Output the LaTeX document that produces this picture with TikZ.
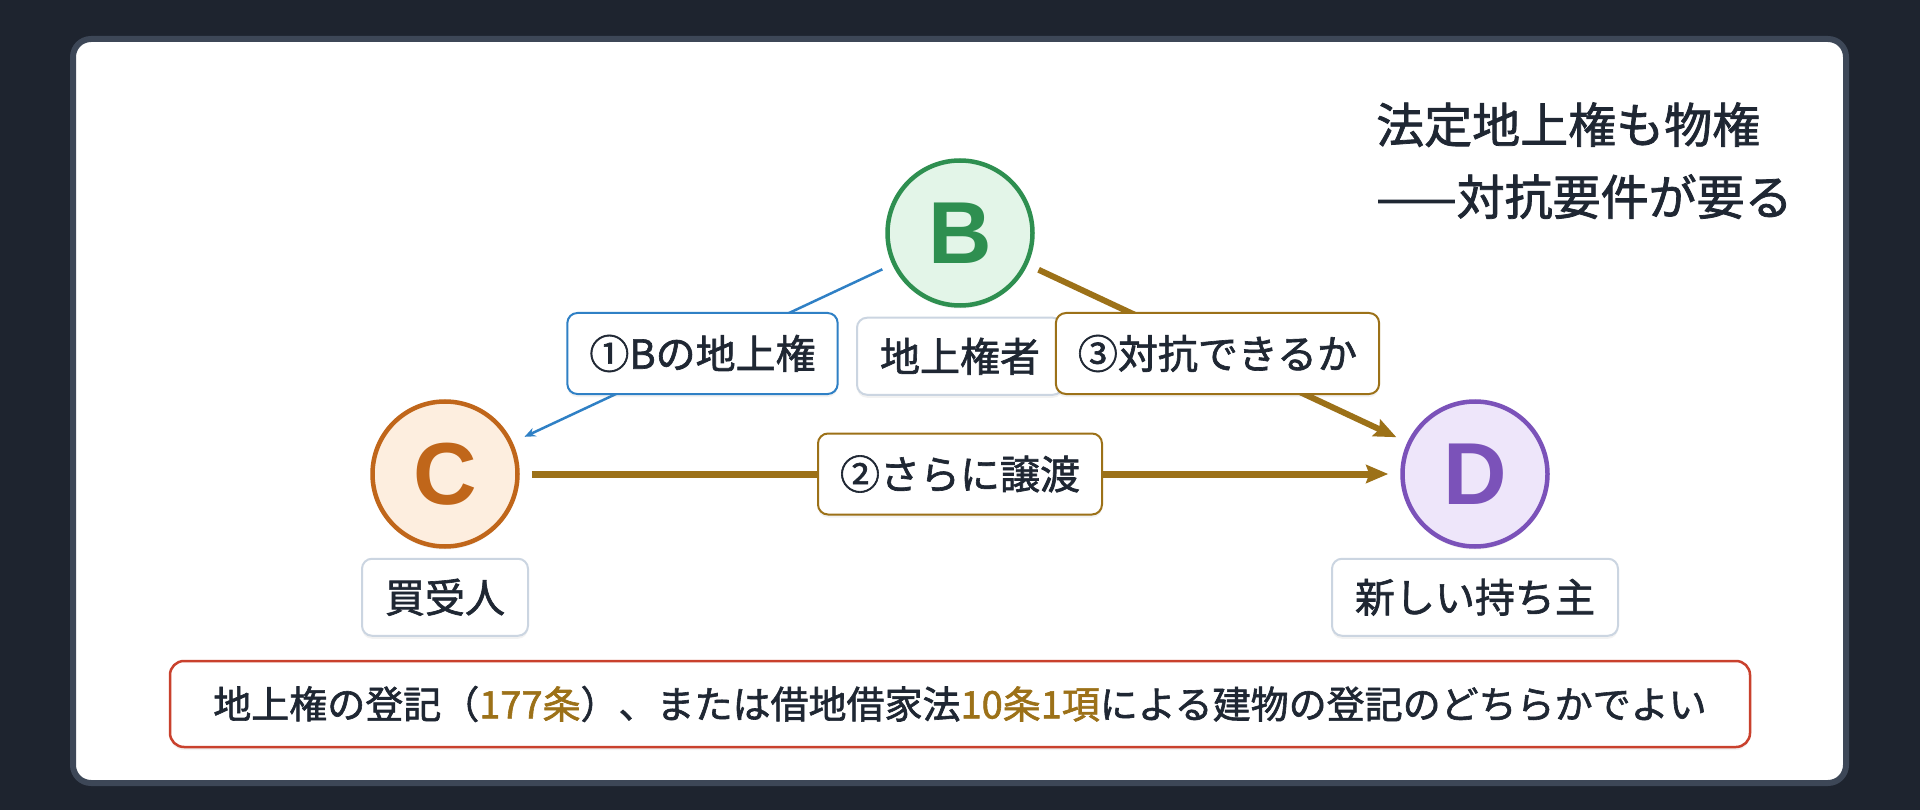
\documentclass[tikz,border=0pt]{standalone}
\usepackage{fontspec}
\setmainfont{Noto Sans CJK JP}[RawFeature={embolden=1.6}]
\newfontfamily\letterfont{Liberation Sans}
\usetikzlibrary{positioning,arrows.meta,shadows}

\definecolor{bgdark}{HTML}{1E242F}
\definecolor{panelline}{HTML}{3D4757}
\definecolor{inktext}{HTML}{1F2733}
\definecolor{grnline}{HTML}{2E8F50}
\definecolor{grnfill}{HTML}{E3F5E8}
\definecolor{orgline}{HTML}{C0661A}
\definecolor{orgfill}{HTML}{FDEEDF}
\definecolor{purline}{HTML}{7B52B9}
\definecolor{purfill}{HTML}{EEE6FA}
\definecolor{goldc}{HTML}{9C7118}
\definecolor{bluec}{HTML}{2F80C5}
\definecolor{redc}{HTML}{C9412D}
\definecolor{boxline}{HTML}{CBD5E1}

\tikzset{>=Stealth,
  softshadow/.style={drop shadow={opacity=0.10, shadow xshift=0pt, shadow yshift=-3pt}},
  person/.style={circle, minimum size=145pt, inner sep=0pt, line width=4.5pt,
    font=\letterfont\bfseries\fontsize{88}{88}\selectfont, softshadow},
  rolebox/.style={draw=boxline, line width=2pt, fill=white, rounded corners=10pt,
    minimum height=77pt, inner xsep=23pt, text=inktext,
    font=\fontsize{40}{48}\selectfont, softshadow},
  edgelabel/.style={line width=2pt, fill=white, rounded corners=10pt,
    minimum height=81pt, inner xsep=22pt, text=inktext,
    font=\fontsize{40}{48}\selectfont, softshadow},
  goldarrow/.style={goldc, -{Stealth[inset=3pt, length=22pt, width=18pt]},
    shorten <=12pt, shorten >=12pt},
}
\newcommand{\hl}[1]{\textcolor{goldc}{#1}}

\begin{document}
\begin{tikzpicture}[x=1pt,y=-1pt]

  \fill[bgdark] (0,0) rectangle (1920,810);
  \useasboundingbox (0,0) rectangle (1920,810);
  \draw[panelline, fill=white, line width=6pt, rounded corners=18pt] (73,39) rectangle (1846,783);

  \node[text=inktext, font=\fontsize{48}{56}\selectfont, anchor=base west, inner sep=0pt] (title1) at (1376,143) {法定地上権も物権};
  \node[text=inktext, font=\fontsize{48}{56}\selectfont, anchor=base west, inner sep=0pt] (title2) at (1376,215) {——対抗要件が要る};

  \node[person, draw=grnline, fill=grnfill, text=grnline] (B) at (960,233) {B};
  \node[person, draw=orgline, fill=orgfill, text=orgline] (C) at (445,474) {C};
  \node[person, draw=purline, fill=purfill, text=purline] (D) at (1475,474) {D};

  \node[rolebox, below=9pt of B] (roleB) {地上権者};
  \node[rolebox, below=9pt of C] (roleC) {買受人};
  \node[rolebox, below=9pt of D] (roleD) {新しい持ち主};

  \draw[bluec, line width=2.5pt, -{Stealth[length=11pt, width=9pt]}, shorten <=11pt, shorten >=13pt]
    (B) -- node[edgelabel, draw=bluec] (lab1) {①Bの地上権} (C);
  \draw[goldarrow, line width=6pt] (B) -- node[edgelabel, draw=goldc] (lab3) {③対抗できるか} (D);
  \draw[goldarrow, line width=7pt] (C) -- node[edgelabel, draw=goldc] (lab2) {②さらに譲渡} (D);

  \node[draw=redc, line width=2.5pt, fill=white, rounded corners=14pt, minimum width=1580pt,
    minimum height=86pt, text=inktext, font=\fontsize{38}{46}\selectfont, softshadow] (note) at (960,704)
    {地上権の登記（\hl{177条}）、または借地借家法\hl{10条1項}による建物の登記のどちらかでよい};

\end{tikzpicture}
\end{document}
